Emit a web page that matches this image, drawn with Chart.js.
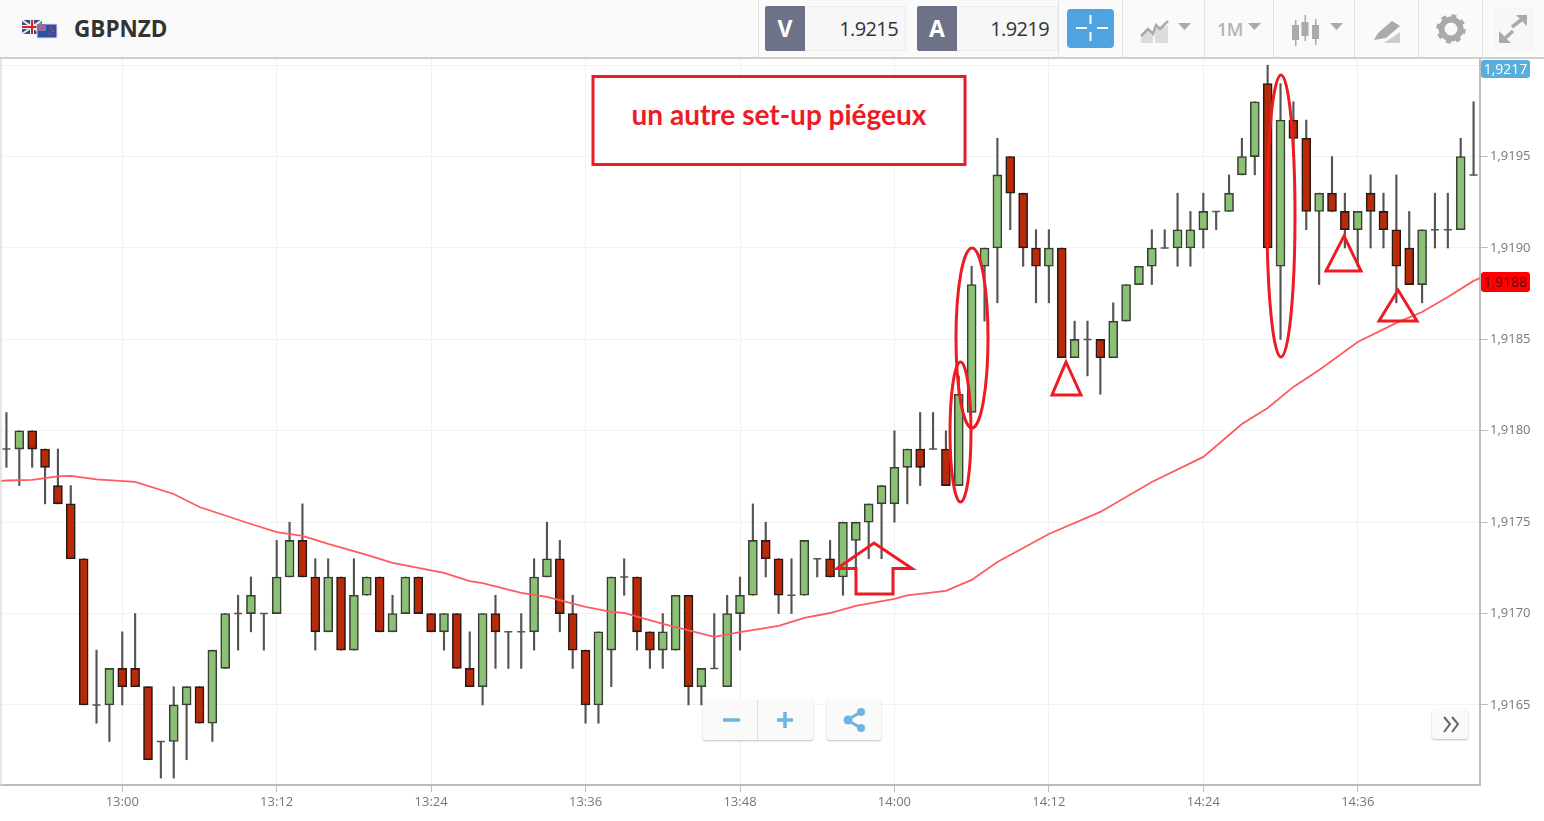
<!DOCTYPE html>
<html><head><meta charset="utf-8"><title>GBPNZD</title>
<script src="https://cdn.jsdelivr.net/npm/chart.js@4"></script>
<style>
html,body{margin:0;padding:0;background:#fff;width:1544px;height:821px;overflow:hidden;font-family:"Open Sans",sans-serif}
#c{position:absolute;left:0;top:0}
#bar{position:absolute;left:0;top:0;width:1544px;background:#fafafa;border-bottom:2px solid #cfcfcf;box-sizing:content-box;height:57px}
.abs{position:absolute}
.div{position:absolute;top:0;width:1px;height:57px;background:#e4e4e4}
.lab{position:absolute;top:6px;width:40px;height:45px;background:#6d7288;color:#fff;font-weight:700;font-size:23px;line-height:45px;text-align:center;border-radius:2px 0 0 2px}
.val{position:absolute;top:6px;height:43px;width:100px;border:1px solid #eee;border-left:none;background:#f7f7f7;color:#333;font-size:20px;line-height:43px;text-align:right;box-sizing:content-box;letter-spacing:-.6px}
.tag{position:absolute;left:1481px;width:49px;border-radius:3px;text-align:center;font-size:14px}
.btn{position:absolute;background:#fafafa;border-radius:3px;box-shadow:0 1px 2px rgba(0,0,0,.25)}
#shade{position:absolute;left:0;top:59px;width:3px;height:726px;background:linear-gradient(90deg,#dcdcdc,rgba(255,255,255,0))}
svg{position:absolute;left:0;top:0;pointer-events:none}
</style></head><body>
<canvas id="c" width="1544" height="821"></canvas>
<div id="shade"></div>
<div id="bar">
<svg width="70" height="57" style="left:0;top:0">
<rect x="22" y="20" width="20" height="14" fill="#3b4a8c"/><path d="M22 20L42 34M42 20L22 34" stroke="#eee" stroke-width="2"/><path d="M32 20V34M22 27H42" stroke="#eee" stroke-width="4"/><path d="M32 20V34M22 27H42" stroke="#d2232a" stroke-width="2"/>
<rect x="37" y="24" width="20" height="14" fill="#33509f" stroke="#dfe3ee"/><rect x="37" y="24" width="9" height="7" fill="#8f6f9f"/><circle cx="51" cy="28" r="1" fill="#e33"/><circle cx="53" cy="31" r="1" fill="#e33"/><circle cx="50" cy="34" r="1" fill="#e33"/>
</svg>
<div class="abs" style="left:74px;top:13px;font-size:22.500px;line-height:32px;font-weight:700;color:#333">GBPNZD</div>
<div class="div" style="left:758px"></div>
<div class="lab" style="left:765px">V</div><div class="val" style="left:805px;padding-right:7px;width:93px">1.9215</div>
<div class="lab" style="left:917px">A</div><div class="val" style="left:957px;padding-right:8px;width:92px">1.9219</div>
<div class="div" style="left:1058px"></div>
<div class="abs" style="left:1067px;top:9px;width:47px;height:39px;background:#4fa3df;border-radius:4px"></div>
<div class="div" style="left:1122px"></div><div class="div" style="left:1204px"></div><div class="div" style="left:1273px"></div><div class="div" style="left:1354px"></div><div class="div" style="left:1418px"></div><div class="div" style="left:1482px"></div>
<div class="abs" style="left:1217px;top:16px;font-size:18px;line-height:26px;color:#b4b4b4;font-weight:600;letter-spacing:-.5px">1M</div>
<div class="abs" style="left:1494px;top:7px;width:40px;height:44px;background:#f7f7f7"></div>
<svg width="1544" height="57">
<path d="M1076 28H1087M1097 28H1108M1090.500 15V24M1090.500 32V41" stroke="#fff" stroke-width="2"/>
<path d="M1141 43V35L1148 31L1153 36V43ZM1155 43V28L1168 26V43Z" fill="#dcdcdc"/><path d="M1141 36L1148 29L1153 34L1156 25L1160 29L1168 21" stroke="#aaa" stroke-width="2.500" fill="none"/>
<path d="M1178 23H1191L1184.500 30ZM1248 23H1261L1254.500 30ZM1330 23H1343L1336.500 30Z" fill="#aaa"/>
<g fill="#aaa"><rect x="1292" y="25" width="7" height="15"/><rect x="1301.500" y="22" width="7" height="14"/><rect x="1312" y="25" width="7" height="14"/><rect x="1295" y="20" width="1.500" height="26"/><rect x="1304.500" y="15" width="1.500" height="26"/><rect x="1315" y="19" width="1.500" height="26"/></g>
<path d="M1374 40L1378 33L1392 21L1400 26L1386 38Z" fill="#aaa"/><path d="M1384 43L1400 32V43Z" fill="#ccc"/>
<circle cx="1451" cy="29" r="9.500" fill="none" stroke="#aaa" stroke-width="6"/><circle cx="1451" cy="29" r="13" fill="none" stroke="#aaa" stroke-width="3.500" stroke-dasharray="5 5.200"/>
<path d="M1512 27L1525 17M1502 41L1513 31" stroke="#aaa" stroke-width="3.500"/><path d="M1516 15H1527V26ZM1499 31V43H1511Z" fill="#aaa"/>
</svg>
</div>
<div class="tag" style="top:60px;height:18px;line-height:18px;background:#58afdd;color:#fff">1,9217</div>
<div class="tag" style="top:272px;height:20px;line-height:20px;background:#fe0000;color:#5a0a0a">1,9188</div>
<div class="btn" style="left:703px;top:700px;width:110px;height:40px"></div>
<div class="btn" style="left:827px;top:700px;width:54px;height:40px"></div>
<div class="btn" style="left:1432px;top:709px;width:36px;height:30px"></div>
<svg width="1544" height="821">
<path d="M757.500 700V740" stroke="#ddd"/>
<path d="M723 720H740M777 720H793M785 712V728" stroke="#6db4e0" stroke-width="3.500"/>
<path d="M861 712L847 720L861 728" stroke="#6db4e0" stroke-width="3" fill="none"/><g fill="#6db4e0"><circle cx="861" cy="712" r="4"/><circle cx="848" cy="720" r="4.500"/><circle cx="861" cy="728" r="4"/></g>
<path d="M1444 717L1450 724L1444 732M1452 717L1458 724L1452 732" stroke="#666" stroke-width="2" fill="none"/>
<g fill="none" stroke="#ed1c24" stroke-width="3">
<rect x="593" y="76.500" width="372" height="88" fill="#fff"/>
<ellipse cx="960.500" cy="432" rx="10.500" ry="70"/>
<ellipse cx="972" cy="338" rx="16" ry="90"/>
<ellipse cx="1281" cy="216" rx="14" ry="141"/>
<path d="M1066 362L1081 395H1052Z"/>
<path d="M1344 236L1361 271H1326Z"/>
<path d="M1398 290L1417 321H1379Z"/>
<path d="M874 543L912 568.500H893V594H856V568.500H837Z"/>
</g>
<text x="779" y="125" text-anchor="middle" font-family="Lato" font-weight="700" font-size="28" fill="#ed1c24">un autre set-up piégeux</text>
</svg>
<script>
const categories=['12:51','12:52','12:53','12:54','12:55','12:56','12:57','12:58','12:59','13:00','13:01','13:02','13:03','13:04','13:05','13:06','13:07','13:08','13:09','13:10','13:11','13:12','13:13','13:14','13:15','13:16','13:17','13:18','13:19','13:20','13:21','13:22','13:23','13:24','13:25','13:26','13:27','13:28','13:29','13:30','13:31','13:32','13:33','13:34','13:35','13:36','13:37','13:38','13:39','13:40','13:41','13:42','13:43','13:44','13:45','13:46','13:47','13:48','13:49','13:50','13:51','13:52','13:53','13:54','13:55','13:56','13:57','13:58','13:59','14:00','14:01','14:02','14:03','14:04','14:05','14:06','14:07','14:08','14:09','14:10','14:11','14:12','14:13','14:14','14:15','14:16','14:17','14:18','14:19','14:20','14:21','14:22','14:23','14:24','14:25','14:26','14:27','14:28','14:29','14:30','14:31','14:32','14:33','14:34','14:35','14:36','14:37','14:38','14:39','14:40','14:41','14:42','14:43','14:44','14:45'];
const open=[1.9179,1.9179,1.9180,1.9179,1.9177,1.9176,1.9173,1.9165,1.9165,1.9167,1.9167,1.9166,1.9163,1.9163,1.9165,1.9166,1.9164,1.9167,1.9170,1.9170,1.9170,1.9170,1.9172,1.9174,1.9172,1.9169,1.9172,1.9168,1.9171,1.9172,1.9169,1.9170,1.9172,1.9170,1.9169,1.9170,1.9167,1.9166,1.9170,1.9169,1.9169,1.9169,1.9172,1.9173,1.9170,1.9168,1.9165,1.9168,1.9172,1.9172,1.9169,1.9168,1.9168,1.9171,1.9166,1.9167,1.9166,1.9170,1.9171,1.9174,1.9173,1.9171,1.9171,1.9173,1.9173,1.9172,1.9174,1.9175,1.9176,1.9176,1.9178,1.9179,1.9179,1.9179,1.9177,1.9181,1.9189,1.9190,1.9195,1.9193,1.9190,1.9189,1.9190,1.9184,1.9185,1.9185,1.9184,1.9186,1.9188,1.9189,1.9190,1.9190,1.9190,1.9191,1.9192,1.9192,1.9194,1.9195,1.9199,1.9189,1.9197,1.9196,1.9192,1.9193,1.9192,1.9191,1.9193,1.9192,1.9191,1.9190,1.9188,1.9191,1.9191,1.9191,1.9194];
const high=[1.9181,1.9180,1.9180,1.9179,1.9179,1.9177,1.9173,1.9168,1.9167,1.9169,1.9170,1.9166,1.9163,1.9166,1.9166,1.9166,1.9168,1.9170,1.9171,1.9172,1.9170,1.9174,1.9175,1.9176,1.9173,1.9173,1.9172,1.9173,1.9172,1.9172,1.9171,1.9172,1.9172,1.9170,1.9170,1.9170,1.9169,1.9170,1.9171,1.9169,1.9170,1.9173,1.9175,1.9174,1.9171,1.9168,1.9169,1.9172,1.9173,1.9172,1.9169,1.9170,1.9171,1.9171,1.9167,1.9170,1.9171,1.9172,1.9176,1.9175,1.9173,1.9173,1.9174,1.9173,1.9174,1.9175,1.9175,1.9176,1.9177,1.9180,1.9179,1.9181,1.9181,1.9180,1.9183,1.9189,1.9190,1.9196,1.9195,1.9193,1.9191,1.9191,1.9190,1.9186,1.9186,1.9185,1.9187,1.9188,1.9189,1.9191,1.9191,1.9193,1.9192,1.9193,1.9192,1.9194,1.9196,1.9198,1.9200,1.9199,1.9198,1.9197,1.9193,1.9195,1.9193,1.9192,1.9194,1.9193,1.9194,1.9192,1.9191,1.9193,1.9193,1.9196,1.9198];
const low=[1.9178,1.9177,1.9178,1.9176,1.9176,1.9173,1.9165,1.9164,1.9163,1.9165,1.9166,1.9162,1.9161,1.9161,1.9162,1.9164,1.9163,1.9167,1.9168,1.9169,1.9168,1.9170,1.9172,1.9172,1.9168,1.9169,1.9168,1.9168,1.9171,1.9169,1.9169,1.9170,1.9170,1.9169,1.9168,1.9167,1.9166,1.9165,1.9167,1.9167,1.9167,1.9168,1.9172,1.9169,1.9167,1.9164,1.9164,1.9166,1.9171,1.9168,1.9167,1.9167,1.9168,1.9165,1.9165,1.9167,1.9166,1.9168,1.9171,1.9172,1.9170,1.9170,1.9171,1.9172,1.9172,1.9171,1.9172,1.9173,1.9173,1.9175,1.9176,1.9177,1.9179,1.9177,1.9177,1.9181,1.9186,1.9187,1.9191,1.9189,1.9187,1.9187,1.9184,1.9184,1.9183,1.9182,1.9184,1.9186,1.9188,1.9188,1.9190,1.9189,1.9189,1.9190,1.9191,1.9192,1.9194,1.9194,1.9190,1.9185,1.9195,1.9191,1.9188,1.9192,1.9190,1.9189,1.9190,1.9190,1.9187,1.9188,1.9187,1.9190,1.9190,1.9191,1.9194];
const close=[1.9179,1.9180,1.9179,1.9178,1.9176,1.9173,1.9165,1.9165,1.9167,1.9166,1.9166,1.9162,1.9163,1.9165,1.9166,1.9164,1.9168,1.9170,1.9170,1.9171,1.9170,1.9172,1.9174,1.9172,1.9169,1.9172,1.9168,1.9171,1.9172,1.9169,1.9170,1.9172,1.9170,1.9169,1.9170,1.9167,1.9166,1.9170,1.9169,1.9169,1.9169,1.9172,1.9173,1.9170,1.9168,1.9165,1.9169,1.9172,1.9172,1.9169,1.9168,1.9169,1.9171,1.9166,1.9167,1.9167,1.9170,1.9171,1.9174,1.9173,1.9171,1.9171,1.9174,1.9173,1.9172,1.9175,1.9175,1.9176,1.9177,1.9178,1.9179,1.9178,1.9179,1.9177,1.9182,1.9188,1.9190,1.9194,1.9193,1.9190,1.9189,1.9190,1.9184,1.9185,1.9185,1.9184,1.9186,1.9188,1.9189,1.9190,1.9190,1.9191,1.9191,1.9192,1.9192,1.9193,1.9195,1.9198,1.9190,1.9197,1.9196,1.9192,1.9193,1.9192,1.9191,1.9192,1.9192,1.9191,1.9189,1.9188,1.9191,1.9191,1.9191,1.9195,1.9194];
const maPositions=[-0.5,0,2,4,5,7,10,13,15,19,21,23,25,28,30,34,36,37,40,42,45,47,48,51,55,57,60,62,64,66,69,70,73,75,77,81,85,89,93,96,98,100,102,105,108,110,112,114,114.5];
const maValues=[1.917725,1.917728,1.917731,1.91775,1.917753,1.917734,1.91772,1.917654,1.917583,1.91749,1.917446,1.917425,1.917381,1.917321,1.917277,1.917222,1.917178,1.917167,1.917113,1.917091,1.917036,1.917009,1.917003,1.916943,1.916872,1.916899,1.916932,1.916976,1.917003,1.917042,1.91708,1.917099,1.917124,1.917184,1.917282,1.917435,1.917556,1.91772,1.917857,1.918037,1.918125,1.91824,1.918333,1.918486,1.91859,1.91865,1.918732,1.91882,1.918836];
const xTickLabels=['13:00','13:12','13:24','13:36','13:48','14:00','14:12','14:24','14:36'];
const yTickValues=[1.9165,1.917,1.9175,1.918,1.9185,1.919,1.9195,1.92];
const yTickLabels=['1,9165','1,9170','1,9175','1,9180','1,9185','1,9190','1,9195',''];

const GREEN='#8bc175',RED='#b82a0a';
new Chart(document.getElementById('c'),{
  type:'bar',
  data:{labels:categories,datasets:[
    {label:'wick',data:categories.map((_,i)=>[low[i],high[i]]),barThickness:1.5,backgroundColor:'#555',grouped:false,order:3},
    {label:'body',data:categories.map((_,i)=>open[i]===close[i]?null:[open[i],close[i]]),barThickness:9,grouped:false,order:2,
      backgroundColor:categories.map((_,i)=>close[i]>open[i]?GREEN:RED),borderColor:categories.map((_,i)=>close[i]>open[i]?'#3a3f36':'#2a1a14'),borderWidth:1.6,borderSkipped:false},
    {label:'doji',type:'line',showLine:false,data:categories.map((_,i)=>open[i]===close[i]?open[i]:null),pointStyle:'line',pointRadius:4,pointBorderColor:'#555',pointBorderWidth:1.5,order:1},
    {label:'MA',type:'line',xAxisID:'xm',data:maPositions.map((p,i)=>({x:p,y:maValues[i]})),borderColor:'#ff5a5f',borderWidth:1.8,pointRadius:0,tension:0,order:0}
  ]},
  options:{
    responsive:false,animation:false,devicePixelRatio:1,
    layout:{autoPadding:false,padding:{top:59,left:0,right:0,bottom:0}},
    plugins:{legend:{display:false},tooltip:{enabled:false}},
    scales:{
      x:{type:'category',offset:true,
        grid:{offset:false,color:'#f1f1f1',lineWidth:1,tickColor:'#bdbdbd',tickLength:7},
        border:{color:'#bdbdbd',width:2},
        afterBuildTicks:s=>{s.ticks=s.ticks.filter(t=>xTickLabels.includes(categories[t.value]));},
        afterFit:s=>{s.height=36;s.paddingLeft=0;s.paddingRight=0;},
        ticks:{autoSkip:false,maxRotation:0,minRotation:0,padding:2,color:'#777',font:{family:'Open Sans',size:13},callback:(v)=>categories[v]}
      },
      xm:{type:'linear',display:false,offset:false,min:-0.5,max:114.5},
      y:{type:'linear',position:'right',min:1.916062,max:1.920034,
        grid:{color:'#f3f3f3',lineWidth:1,tickColor:'#bdbdbd',tickLength:8},
        border:{color:'#bdbdbd',width:2},
        afterBuildTicks:s=>{s.ticks=yTickValues.map(v=>({value:v}));},
        afterFit:s=>{s.width=64;s.paddingTop=0;s.paddingBottom=0;},
        ticks:{autoSkip:false,padding:2,color:'#777',font:{family:'Open Sans',size:13},callback:v=>yTickLabels[yTickValues.indexOf(v)]}
      }
    }
  }
});
</script>
</body></html>
